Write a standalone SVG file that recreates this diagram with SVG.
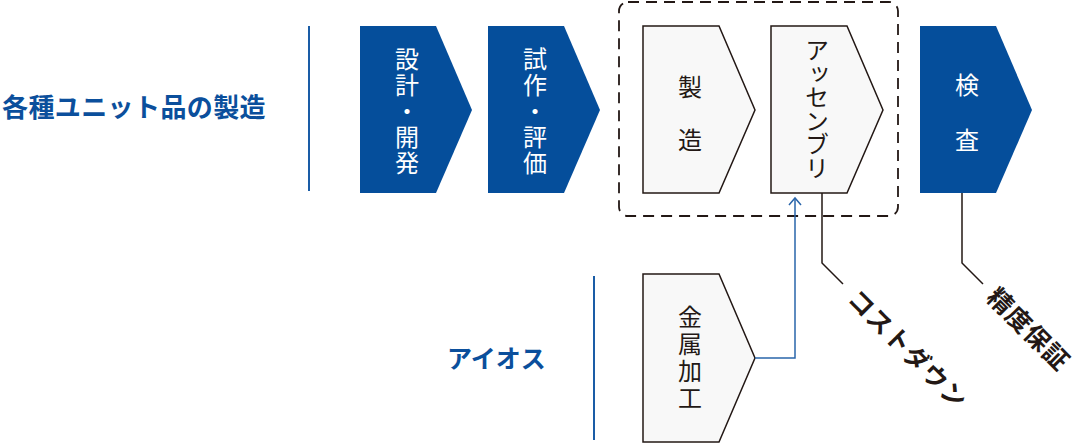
<svg xmlns="http://www.w3.org/2000/svg" width="1080" height="443" viewBox="0 0 1080 443">
<defs>
<style>
.jp{font-family:"Noto Sans CJK JP","Noto Sans",sans-serif;}
.title{font-weight:bold;fill:#0b4f9c;dominant-baseline:central;}
.blue{fill:#054e9b;}
.light{fill:#f8f8f8;stroke:#231815;stroke-width:1.5;}
.wt{fill:#ffffff;font-size:24px;}
.bt{fill:#231815;font-size:24px;}
.vt{writing-mode:vertical-rl;text-anchor:start;}
.ct{text-anchor:middle;dominant-baseline:central;}
.line{fill:none;stroke:#231815;stroke-width:1.5;}
.rot{font-weight:bold;font-size:25px;fill:#231815;dominant-baseline:central;}
</style>
<marker id="arr" markerWidth="14" markerHeight="14" refX="8" refY="7" orient="auto" markerUnits="userSpaceOnUse" viewBox="0 0 14 14">
<path d="M1,1 L8,7 L1,13" fill="none" stroke="#2a65aa" stroke-width="1.5"/>
</marker>
</defs>
<rect width="1080" height="443" fill="#ffffff"/>

<g id="label-units">
<text class="jp title" x="2" y="105" font-size="26" letter-spacing="0.4">各種ユニット品の製造</text>
<line x1="309" y1="26" x2="309" y2="191" stroke="#1a5ca6" stroke-width="2"/>
</g>
<g id="label-aios">
<text class="jp title" x="447" y="357" font-size="25">アイオス</text>
<line x1="594" y1="276" x2="594" y2="440" stroke="#1a5ca6" stroke-width="2"/>
</g>

<g id="group-dashed">
<rect x="619" y="2" width="279" height="214" rx="9" fill="none" stroke="#231815" stroke-width="1.8" stroke-dasharray="11,7"/>
</g>

<g id="node-design">
<polygon class="blue" points="360,26 436,26 472,110 436,193 360,193"/>
<text class="jp wt vt" x="407" y="47" letter-spacing="2">設計・開発</text>
</g>
<g id="node-proto">
<polygon class="blue" points="488,26 564,26 600,110 564,193 488,193"/>
<text class="jp wt vt" x="535" y="47" letter-spacing="2">試作・評価</text>
</g>
<g id="node-manufacture">
<polygon class="light" points="643,26 719,26 755,110 719,193 643,193"/>
<text class="jp bt ct" x="690" y="85">製</text>
<text class="jp bt ct" x="690" y="138">造</text>
</g>
<g id="node-assembly">
<polygon class="light" points="771,26 847,26 883,110 847,193 771,193"/>
<text class="jp bt vt" x="817" y="38" letter-spacing="-0.5">アッセンブリ</text>
</g>
<g id="node-inspection">
<polygon class="blue" points="920,26 996,26 1032,110 996,193 920,193"/>
<text class="jp wt ct" x="967" y="83">検</text>
<text class="jp wt ct" x="967" y="138">査</text>
</g>
<g id="node-metal">
<polygon class="light" points="643,274 719,274 755,358 719,442 643,442"/>
<text class="jp bt vt" x="690" y="305" letter-spacing="3">金属加工</text>
</g>

<g id="connectors">
<polyline points="755,358 795,358 795,198" fill="none" stroke="#2a65aa" stroke-width="1.5" marker-end="url(#arr)"/>
<polyline class="line" points="822,193 822,263 843,284"/>
<polyline class="line" points="962,193 962,263 983,284"/>
</g>

<g id="note-cost">
<text class="jp rot" transform="translate(854,293) rotate(45)" letter-spacing="1">コストダウン</text>
</g>
<g id="note-precision">
<text class="jp rot" transform="translate(993,291) rotate(45)" letter-spacing="1">精度保証</text>
</g>
</svg>
